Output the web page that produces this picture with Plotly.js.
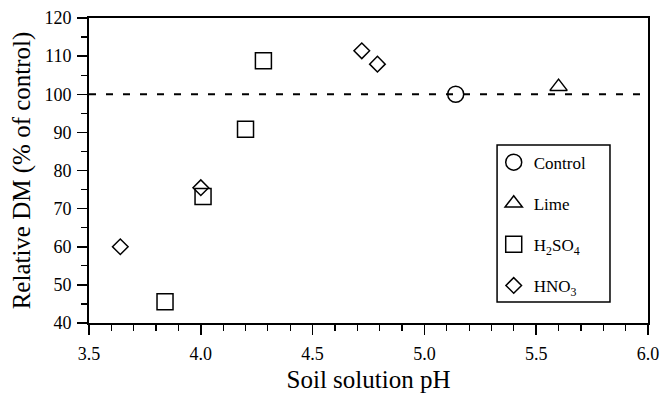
<!DOCTYPE html>
<html>
<head>
<meta charset="utf-8">
<script src="https://cdn.plot.ly/plotly-3.0.1.min.js"></script>
<style>html,body{margin:0;padding:0;background:#fff}#chart{width:664px;height:397px}</style>
</head>
<body>
<div id="chart"></div>
<script>
const controlX = [5.14];
const controlY = [100];
const limeX = [5.60];
const limeY = [102];
const h2so4X = [3.84, 4.01, 4.20, 4.28];
const h2so4Y = [45.6, 73.2, 90.8, 108.8];
const hno3X = [3.64, 4.00, 4.72, 4.79];
const hno3Y = [60, 75.5, 111.4, 107.9];
const refX = [3.5, 6.0];
const refY = [100, 100];
const seriesNames = ['Control', 'Lime', 'H<sub>2</sub>SO<sub>4</sub>', 'HNO<sub>3</sub>'];

const font = "Liberation Serif";
const mk = (sym, size) => ({symbol: sym, size: size, color: '#000', line: {color: '#000', width: 1.5}});

const traces = [
  {x: refX, y: refY, mode: 'lines', line: {color: '#000', width: 2, dash: '7px,10px'}, showlegend: false, hoverinfo: 'skip'},
  {x: controlX, y: controlY, mode: 'markers', name: seriesNames[0], legendgroup: 'a', marker: mk('circle-open', 16)},
  {x: limeX, y: limeY, mode: 'markers', name: seriesNames[1], legendgroup: 'b', marker: mk('triangle-up-open', 15)},
  {x: h2so4X, y: h2so4Y, mode: 'markers', name: seriesNames[2], legendgroup: 'c', marker: mk('square-open', 16)},
  {x: hno3X, y: hno3Y, mode: 'markers', name: seriesNames[3], legendgroup: 'd', marker: mk('diamond-open', 12)}
];

const layout = {
  width: 664, height: 397,
  margin: {l: 89, r: 16, t: 18, b: 74},
  paper_bgcolor: '#fff', plot_bgcolor: '#fff',
  font: {family: font, color: '#000', size: 18},
  showlegend: true,
  legend: {x: 0.724, y: 0.585, xanchor: 'left', yanchor: 'top', borderwidth: 0,
           bgcolor: 'rgba(0,0,0,0)', font: {family: font, size: 17, color: '#000'}, tracegroupgap: 16, traceorder: 'grouped'},
  shapes: [{type: 'rect', xref: 'paper', yref: 'paper', x0: 0.730, x1: 0.932, y0: 0.069, y1: 0.584,
            line: {color: '#000', width: 1.5}, fillcolor: 'rgba(0,0,0,0)', layer: 'above'}],
  xaxis: {range: [3.5, 6.0], dtick: 0.5, tick0: 3.5, tickformat: '.1f', ticks: 'outside', ticklen: 10, tickwidth: 1.5,
          tickcolor: '#000', ticklabelstandoff: 3,
          showline: true, linewidth: 2, linecolor: '#000', mirror: true, showgrid: false, zeroline: false,
          minor: {dtick: 0.1, ticks: 'outside', ticklen: 6, tickwidth: 1.2, tickcolor: '#000', showgrid: false},
          title: {text: 'Soil solution pH', font: {family: font, size: 25, color: '#000'}, standoff: 8},
          tickfont: {family: font, size: 18, color: '#000'}},
  yaxis: {range: [40, 120], dtick: 10, ticks: 'outside', ticklen: 10, tickwidth: 1.5,
          tickcolor: '#000', ticklabelstandoff: 2,
          showline: true, linewidth: 2, linecolor: '#000', mirror: true, showgrid: false, zeroline: false,
          minor: {dtick: 5, ticks: 'outside', ticklen: 6, tickwidth: 1.2, tickcolor: '#000', showgrid: false},
          title: {text: 'Relative DM (% of control)', font: {family: font, size: 25, color: '#000'}, standoff: 7},
          tickfont: {family: font, size: 18, color: '#000'}}
};

Plotly.newPlot('chart', traces, layout, {displayModeBar: false, staticPlot: true});
</script>
</body>
</html>
